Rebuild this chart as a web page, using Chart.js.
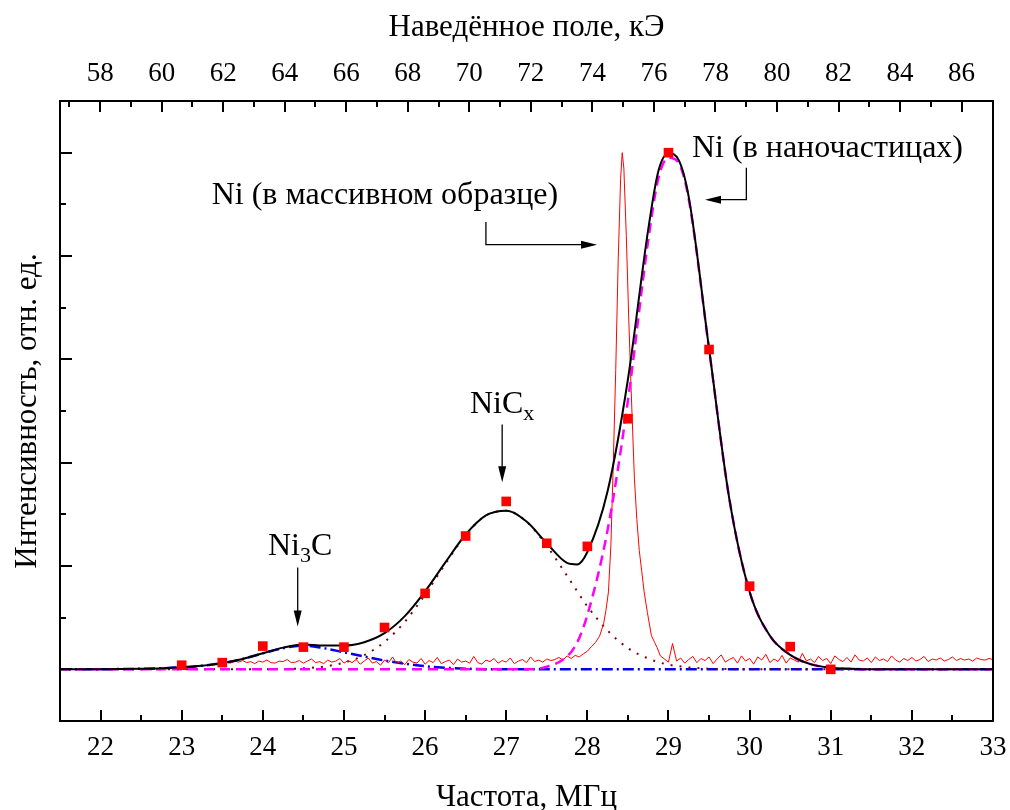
<!DOCTYPE html>
<html>
<head>
<meta charset="utf-8">
<script src="https://cdn.jsdelivr.net/npm/chart.js@4.4.1/dist/chart.umd.min.js"></script>
<style>
  html, body { margin: 0; padding: 0; background: #fff; }
  canvas { display: block; }
</style>
</head>
<body>
<canvas id="spectrum" width="1010" height="810"></canvas>
<script>
// Frequency axis, MHz
var freqMin = 21.5;
var freqMax = 33;
var freqTicks = [22, 23, 24, 25, 26, 27, 28, 29, 30, 31, 32, 33];
var freqMinorTicks = [22.5, 23.5, 24.5, 25.5, 26.5, 27.5, 28.5, 29.5, 30.5, 31.5, 32.5];

// Induced field axis, kOe (tied to the frequency axis)
var fieldPerMHz = 2.637;
var fieldTicks = [58, 60, 62, 64, 66, 68, 70, 72, 74, 76, 78, 80, 82, 84, 86];
var fieldMinorTicks = [57, 59, 61, 63, 65, 67, 69, 71, 73, 75, 77, 79, 81, 83, 85];

// Intensity axis (no labels)
var intensityMajorTicks = [0, 0.2, 0.4, 0.6, 0.8, 1.0];
var intensityMinorTicks = [0.1, 0.3, 0.5, 0.7, 0.9];

// Experimental points, Ni nanoparticles
var pointFreq = [23, 23.5, 24, 24.5, 25, 25.5, 26, 26.5, 27, 27.5, 28, 28.5, 29, 29.5, 30, 30.5, 31];
var pointIntensity = [0.008, 0.013, 0.045, 0.043, 0.043, 0.081, 0.147, 0.258, 0.325, 0.244, 0.238, 0.485, 1.0, 0.619, 0.161, 0.044, 0.0];

// Fit: total and components
var fitFreq = [21.5, 21.75, 22, 22.25, 22.5, 22.75, 23, 23.25, 23.5, 23.75,
               24, 24.25, 24.5, 24.75, 25, 25.25, 25.5, 25.75, 26, 26.25,
               26.5, 26.75, 27, 27.25, 27.5, 27.75, 27.875, 28, 28.25, 28.5,
               28.75, 28.875, 29, 29.125, 29.25, 29.5, 29.75, 30, 30.25, 30.5,
               30.75, 31, 31.25, 31.5, 31.75, 32, 32.5, 33];
var fitTotal = [0, 0.0001, 0.0002, 0.0005, 0.001, 0.002, 0.004, 0.007, 0.012, 0.020,
                0.031, 0.042, 0.048, 0.046, 0.046, 0.0525, 0.070, 0.103, 0.151, 0.207,
                0.261, 0.298, 0.307, 0.286, 0.244, 0.206, 0.203, 0.227, 0.345, 0.561,
                0.851, 0.964, 0.999, 0.986, 0.914, 0.621, 0.330, 0.150, 0.065, 0.028,
                0.010, 0.003, 0.001, 0, 0, 0, 0, 0];
var fitNi3C = [0, 0, 0.0002, 0.0005, 0.001, 0.002, 0.004, 0.007, 0.012, 0.020,
               0.031, 0.041, 0.046, 0.041, 0.033, 0.025, 0.017, 0.011, 0.006, 0.003,
               0.0012, 0.0004, 0.0001, 0, 0, 0, 0, 0, 0, 0,
               0, 0, 0, 0, 0, 0, 0, 0, 0, 0,
               0, 0, 0, 0, 0, 0, 0, 0];
var fitNiCx = [0, 0, 0, 0, 0, 0, 0, 0, 0, 0,
               0.0002, 0.0007, 0.002, 0.0054, 0.0128, 0.0275, 0.053, 0.092, 0.145, 0.204,
               0.260, 0.298, 0.307, 0.286, 0.239, 0.181, 0.151, 0.122, 0.075, 0.041,
               0.021, 0.014, 0.009, 0.006, 0.0037, 0.0013, 0.0004, 0.0001, 0, 0,
               0, 0, 0, 0, 0, 0, 0, 0];
var fitNi = [0, 0, 0, 0, 0, 0, 0, 0, 0, 0,
             0, 0, 0, 0, 0, 0, 0, 0, 0, 0,
             0, 0, 0, 0, 0.005, 0.025, 0.052, 0.105, 0.27, 0.52,
             0.83, 0.95, 0.99, 0.98, 0.91, 0.62, 0.33, 0.15, 0.065, 0.028,
             0.01, 0.003, 0.001, 0, 0, 0, 0, 0];

// Bulk Ni spectrum: noisy baseline left (23.50..27.55, step 0.05), peak, baseline right (28.95..33.00)
var bulkStep = 0.05;
var bulkLeftStart = 23.5;
var bulkNoiseLeft = [0.013, 0.015, 0.012, 0.016, 0.014, 0.017, 0.013, 0.015, 0.011, 0.016,
                     0.014, 0.018, 0.013, 0.012, 0.016, 0.015, 0.019, 0.013, 0.014, 0.017,
                     0.012, 0.016, 0.020, 0.013, 0.015, 0.011, 0.018, 0.014, 0.016, 0.021,
                     0.012, 0.017, 0.013, 0.019, 0.010, 0.016, 0.022, 0.012, 0.015, 0.008,
                     0.018, 0.013, 0.024, 0.011, 0.016, 0.009, 0.019, 0.014, 0.012, 0.021,
                     0.010, 0.017, 0.013, 0.023, 0.011, 0.015, 0.018, 0.009, 0.020, 0.014,
                     0.016, 0.012, 0.025, 0.013, 0.010, 0.018, 0.015, 0.021, 0.012, 0.017,
                     0.014, 0.022, 0.011, 0.016, 0.019, 0.013, 0.024, 0.015, 0.018, 0.014,
                     0.020, 0.017];
var bulkPeakFreq = [27.6, 27.65, 27.7, 27.75, 27.8, 27.85, 27.9, 27.95, 28.0, 28.05,
                    28.1, 28.15, 28.2, 28.23, 28.26, 28.29, 28.32, 28.35, 28.38, 28.41,
                    28.43, 28.45, 28.48, 28.51, 28.54, 28.58, 28.61, 28.64, 28.67, 28.7,
                    28.74, 28.79, 28.83, 28.86, 28.9];
var bulkPeak = [0.019, 0.023, 0.018, 0.026, 0.021, 0.027, 0.024, 0.030, 0.035, 0.044,
                0.052, 0.064, 0.088, 0.115, 0.15, 0.24, 0.40, 0.58, 0.79, 0.95,
                1.0, 0.97, 0.84, 0.68, 0.54, 0.37, 0.29, 0.23, 0.19, 0.15,
                0.11, 0.065, 0.052, 0.042, 0.026];
var bulkRightStart = 28.95;
var bulkNoiseRight = [0.020, 0.014, 0.050, 0.016, 0.022, 0.012, 0.019, 0.025, 0.013, 0.021,
                      0.017, 0.024, 0.011, 0.020, 0.028, 0.014, 0.019, 0.023, 0.012, 0.026,
                      0.016, 0.021, 0.010, 0.024, 0.018, 0.029, 0.013, 0.020, 0.015, 0.027,
                      0.012, 0.022, 0.018, 0.014, 0.031, 0.016, 0.020, 0.013, 0.025, 0.017,
                      0.021, 0.011, 0.026, 0.019, 0.015, 0.023, 0.014, 0.028, 0.018, 0.016,
                      0.022, 0.013, 0.024, 0.017, 0.020, 0.015, 0.026, 0.018, 0.014, 0.021,
                      0.017, 0.023, 0.016, 0.019, 0.025, 0.015, 0.020, 0.018, 0.022, 0.016,
                      0.019, 0.024, 0.017, 0.021, 0.018, 0.020, 0.016, 0.022, 0.019, 0.018,
                      0.021, 0.019];

// Labels and arrows, anchored in data units
var labels = [
    { parts: [['Ni', 0], ['3', 1], ['C', 0]], freq: 24.46, value: 0.222, align: 'center' },
    { parts: [['NiC', 0], ['x', 1]], freq: 26.95, value: 0.4965, align: 'center' },
    { parts: [['Ni (в массивном образце)', 0]], freq: 23.37, value: 0.90, align: 'left' },
    { parts: [['Ni (в наночастицах)', 0]], freq: 29.29, value: 0.992, align: 'left' }
];
var arrows = [
    [[24.43, 0.197], [24.43, 0.083]],
    [[26.95, 0.474], [26.95, 0.362]],
    [[26.75, 0.866], [26.75, 0.822], [28.12, 0.822]],
    [[29.96, 0.971], [29.96, 0.909], [29.45, 0.909]]
];

var serif = "'Liberation Serif', 'Times New Roman', serif";

function pairs(xs, ys) {
    var out = [];
    for (var i = 0; i < xs.length; i++) out.push({ x: xs[i], y: ys[i] });
    return out;
}

var bulkData = [];
bulkNoiseLeft.forEach(function(v, i) {
    bulkData.push({ x: +(bulkLeftStart + i * bulkStep).toFixed(2), y: v });
});
bulkData = bulkData.concat(pairs(bulkPeakFreq, bulkPeak));
bulkNoiseRight.forEach(function(v, i) {
    bulkData.push({ x: +(bulkRightStart + i * bulkStep).toFixed(2), y: v });
});

// Frame and inward tick marks
var framePlugin = {
    id: 'frame',
    afterDatasetsDraw: function(chart) {
        var ctx = chart.ctx;
        var a = chart.chartArea;
        var sx = chart.scales.x, st = chart.scales.x2, sy = chart.scales.y;
        ctx.save();
        ctx.strokeStyle = '#000';
        ctx.lineWidth = 2;
        ctx.beginPath();
        freqTicks.forEach(function(v) {
            var p = Math.round(sx.getPixelForValue(v));
            ctx.moveTo(p, a.bottom); ctx.lineTo(p, a.bottom - 11);
        });
        freqMinorTicks.forEach(function(v) {
            var p = Math.round(sx.getPixelForValue(v));
            ctx.moveTo(p, a.bottom); ctx.lineTo(p, a.bottom - 6);
        });
        fieldTicks.forEach(function(v) {
            var p = Math.round(st.getPixelForValue(v));
            ctx.moveTo(p, a.top); ctx.lineTo(p, a.top + 11);
        });
        fieldMinorTicks.forEach(function(v) {
            var p = Math.round(st.getPixelForValue(v));
            ctx.moveTo(p, a.top); ctx.lineTo(p, a.top + 6);
        });
        intensityMajorTicks.forEach(function(v) {
            var p = Math.round(sy.getPixelForValue(v));
            ctx.moveTo(a.left, p); ctx.lineTo(a.left + 12, p);
        });
        intensityMinorTicks.forEach(function(v) {
            var p = Math.round(sy.getPixelForValue(v));
            ctx.moveTo(a.left, p); ctx.lineTo(a.left + 6, p);
        });
        ctx.stroke();
        ctx.strokeRect(a.left, a.top, a.right - a.left, a.bottom - a.top);
        ctx.restore();
    }
};

// Peak labels with subscripts, and arrows
var notesPlugin = {
    id: 'notes',
    afterDraw: function(chart) {
        var ctx = chart.ctx;
        var sx = chart.scales.x, sy = chart.scales.y;
        ctx.save();
        ctx.fillStyle = '#000';
        ctx.textBaseline = 'alphabetic';
        ctx.textAlign = 'left';
        labels.forEach(function(l) {
            var w = 0;
            l.parts.forEach(function(p) {
                ctx.font = (p[1] ? '22px ' : '32px ') + serif;
                w += ctx.measureText(p[0]).width;
            });
            var x = sx.getPixelForValue(l.freq);
            var y = sy.getPixelForValue(l.value);
            if (l.align === 'center') x -= w / 2;
            l.parts.forEach(function(p) {
                ctx.font = (p[1] ? '22px ' : '32px ') + serif;
                ctx.fillText(p[0], x, y + (p[1] ? 7 : 0));
                x += ctx.measureText(p[0]).width;
            });
        });
        ctx.strokeStyle = '#000';
        ctx.lineWidth = 1.3;
        arrows.forEach(function(path) {
            var pts = path.map(function(q) {
                return [sx.getPixelForValue(q[0]), sy.getPixelForValue(q[1])];
            });
            var n = pts.length;
            var ex = pts[n - 1][0], ey = pts[n - 1][1];
            var dx = ex - pts[n - 2][0], dy = ey - pts[n - 2][1];
            var len = Math.sqrt(dx * dx + dy * dy);
            dx /= len; dy /= len;
            ctx.beginPath();
            ctx.moveTo(pts[0][0], pts[0][1]);
            for (var i = 1; i < n - 1; i++) ctx.lineTo(pts[i][0], pts[i][1]);
            ctx.lineTo(ex - dx * 10, ey - dy * 10);
            ctx.stroke();
            ctx.beginPath();
            ctx.moveTo(ex, ey);
            ctx.lineTo(ex - dx * 16 - dy * 4, ey - dy * 16 + dx * 4);
            ctx.lineTo(ex - dx * 16 + dy * 4, ey - dy * 16 - dx * 4);
            ctx.closePath();
            ctx.fill();
        });
        ctx.restore();
    }
};

var tickFont = { family: serif, size: 27 };
var titleFont = { family: serif, size: 31, lineHeight: 0.8 };

// keep the plot box where the frame sits, regardless of label overflow
function fixHorizontal(h) {
    return function(s) {
        s.height = h;
        s.paddingLeft = 0;
        s.paddingRight = 0;
    };
}

new Chart(document.getElementById('spectrum'), {
    type: 'line',
    data: {
        datasets: [
            {
                type: 'scatter',
                data: pairs(pointFreq, pointIntensity),
                pointStyle: 'rect',
                pointRadius: 6.8,
                pointBackgroundColor: '#ff0000',
                pointBorderWidth: 0,
                showLine: false
            },
            {
                data: pairs(fitFreq, fitTotal),
                borderColor: '#000000',
                borderWidth: 2,
                cubicInterpolationMode: 'monotone',
                pointRadius: 0
            },
            {
                data: pairs(fitFreq, fitNi),
                borderColor: '#ff00ff',
                borderWidth: 2.5,
                borderDash: [10, 6],
                cubicInterpolationMode: 'monotone',
                pointRadius: 0
            },
            {
                data: bulkData,
                borderColor: '#ff0000',
                borderWidth: 1,
                tension: 0,
                pointRadius: 0
            },
            {
                data: pairs(fitFreq, fitNiCx),
                borderColor: '#800000',
                borderWidth: 2,
                borderDash: [2, 7],
                cubicInterpolationMode: 'monotone',
                pointRadius: 0
            },
            {
                data: pairs(fitFreq, fitNi3C),
                borderColor: '#0000ee',
                borderWidth: 2.5,
                borderDash: [11, 4, 2, 4],
                cubicInterpolationMode: 'monotone',
                pointRadius: 0
            }
        ]
    },
    options: {
        responsive: false,
        animation: false,
        devicePixelRatio: 1,
        layout: { padding: { right: 17 } },
        plugins: {
            legend: { display: false },
            tooltip: { enabled: false }
        },
        scales: {
            x: {
                type: 'linear',
                position: 'bottom',
                min: freqMin,
                max: freqMax,
                afterBuildTicks: function(s) { s.ticks = freqTicks.map(function(v) { return { value: v }; }); },
                afterFit: fixHorizontal(89),
                grid: { display: false, drawTicks: false },
                border: { display: false },
                ticks: { font: tickFont, color: '#000', padding: 11, maxRotation: 0, autoSkip: false },
                title: { display: true, text: 'Частота, МГц', font: titleFont, color: '#000', padding: { top: 0, bottom: 0 } }
            },
            x2: {
                type: 'linear',
                position: 'top',
                min: freqMin * fieldPerMHz,
                max: freqMax * fieldPerMHz,
                afterBuildTicks: function(s) { s.ticks = fieldTicks.map(function(v) { return { value: v }; }); },
                afterFit: fixHorizontal(101),
                grid: { display: false, drawTicks: false },
                border: { display: false },
                ticks: { font: tickFont, color: '#000', padding: 11, maxRotation: 0, autoSkip: false },
                title: { display: true, text: 'Наведённое поле, кЭ', font: titleFont, color: '#000', padding: { top: 15, bottom: 0 } }
            },
            y: {
                type: 'linear',
                min: -0.1,
                max: 1.1,
                afterFit: function(s) { s.width = 60; },
                grid: { display: false, drawTicks: false },
                border: { display: false },
                ticks: { display: false },
                title: { display: true, text: 'Интенсивность, отн. ед.', font: titleFont, color: '#000', padding: { top: 15, bottom: 0 } }
            }
        }
    },
    plugins: [framePlugin, notesPlugin]
});
</script>
</body>
</html>
